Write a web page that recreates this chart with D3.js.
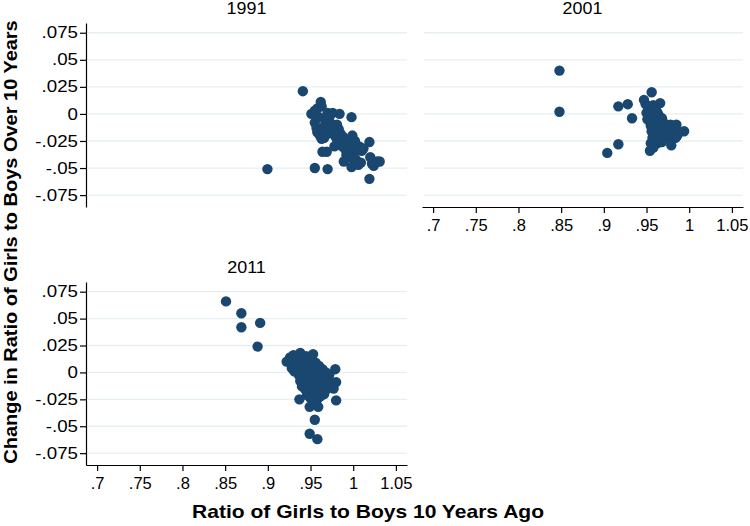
<!DOCTYPE html>
<html>
<head>
<meta charset="utf-8">
<script src="https://cdn.jsdelivr.net/npm/d3@7"></script>
<style>
  body { margin: 0; background: #fff; }
  text { font-family: "Liberation Sans", Arial, Helvetica, sans-serif; fill: #000; }
  .axis path, .axis line { stroke: #000; stroke-width: 1.2; }
  .grid line { stroke: #e6eff1; stroke-width: 1.3; }
</style>
</head>
<body>
<svg id="chart" width="750" height="526"></svg>
<script>
// ── Data: [ratio 10 years ago, change over 10 years] ──
const pts1991 = [
  [0.8995, -0.051], [0.941, 0.021], [0.951, 0.000], [0.955, 0.003], [0.958, 0.005],
  [0.962, 0.011], [0.963, 0.007], [0.955, -0.050], [0.970, -0.051], [0.964, -0.035],
  [0.969, -0.035], [0.955, -0.008], [0.957, -0.013], [0.958, -0.017], [0.961, -0.020],
  [0.963, -0.023], [0.966, -0.022], [0.967, -0.010], [0.968, -0.004], [0.970, 0.001],
  [0.972, -0.003], [0.973, -0.008], [0.975, -0.012], [0.976, 0.001], [0.977, -0.015],
  [0.978, -0.019], [0.980, -0.022], [0.981, -0.010], [0.983, -0.014], [0.984, 0.000],
  [0.985, -0.018], [0.986, -0.025], [0.987, -0.030], [0.988, -0.021], [0.989, -0.044],
  [0.990, -0.028], [0.991, -0.033], [0.992, -0.038], [0.993, -0.024], [0.994, -0.035],
  [0.995, -0.027], [0.996, -0.031], [0.997, -0.040], [0.998, -0.003], [0.998, -0.049],
  [0.999, -0.020], [1.000, -0.030], [1.001, -0.036], [1.002, -0.025], [1.003, -0.042],
  [1.004, -0.032], [1.006, -0.047], [1.007, -0.030], [1.009, -0.045], [1.010, -0.034],
  [1.012, -0.032], [1.019, -0.026], [1.020, -0.040], [1.022, -0.046], [1.024, -0.048],
  [1.028, -0.044], [1.031, -0.044], [1.019, -0.060], [0.978, -0.030], [0.982, -0.026],
  [0.960, -0.003], [0.965, -0.015], [0.972, -0.018]
];

const pts2001 = [
  [0.848, 0.040], [0.848, 0.002], [0.904, -0.036], [0.917, -0.028], [0.917, 0.007],
  [0.928, 0.009], [0.933, -0.004], [0.956, 0.020], [0.947, 0.013], [0.949, 0.009],
  [0.966, 0.010], [0.952, 0.006], [0.955, 0.003], [0.958, 0.008], [0.961, 0.004],
  [0.950, 0.001], [0.953, -0.002], [0.957, -0.001], [0.960, -0.003], [0.963, 0.001],
  [0.965, -0.002], [0.968, -0.004], [0.951, -0.005], [0.954, -0.007], [0.958, -0.008],
  [0.962, -0.006], [0.966, -0.009], [0.969, -0.007], [0.972, -0.010], [0.955, -0.011],
  [0.959, -0.013], [0.963, -0.012], [0.967, -0.014], [0.971, -0.013], [0.975, -0.012],
  [0.978, -0.010], [0.982, -0.011], [0.985, -0.010], [0.956, -0.016], [0.960, -0.018],
  [0.964, -0.017], [0.968, -0.019], [0.972, -0.017], [0.976, -0.016], [0.980, -0.018],
  [0.984, -0.015], [0.988, -0.017], [0.994, -0.016], [0.957, -0.022], [0.961, -0.024],
  [0.965, -0.021], [0.970, -0.023], [0.975, -0.021], [0.979, -0.024], [0.984, -0.022],
  [0.986, -0.020], [0.955, -0.027], [0.959, -0.029], [0.963, -0.027], [0.979, -0.029],
  [0.954, -0.034], [0.958, -0.031], [0.968, -0.026]
];

const pts2011 = [
  [0.851, 0.066], [0.869, 0.055], [0.869, 0.042], [0.891, 0.046], [0.888, 0.024],
  [0.922, 0.010], [0.926, 0.014], [0.930, 0.016], [0.935, 0.013], [0.938, 0.018],
  [0.945, 0.015], [0.953, 0.017], [0.928, 0.004], [0.932, 0.008], [0.936, 0.006],
  [0.940, 0.010], [0.944, 0.007], [0.948, 0.011], [0.952, 0.005], [0.956, 0.009],
  [0.960, 0.006], [0.931, 0.001], [0.936, -0.002], [0.940, 0.000], [0.944, -0.003],
  [0.948, 0.002], [0.952, -0.001], [0.956, 0.001], [0.960, -0.002], [0.964, 0.003],
  [0.968, 0.000], [0.972, -0.002], [0.979, 0.003], [0.938, -0.008], [0.942, -0.006],
  [0.946, -0.010], [0.950, -0.007], [0.954, -0.009], [0.958, -0.006], [0.962, -0.010],
  [0.966, -0.007], [0.970, -0.011], [0.975, -0.009], [0.980, -0.009], [0.940, -0.013],
  [0.944, -0.016], [0.948, -0.014], [0.952, -0.017], [0.956, -0.015], [0.960, -0.018],
  [0.964, -0.014], [0.968, -0.016], [0.977, -0.015], [0.937, -0.025], [0.946, -0.021],
  [0.950, -0.024], [0.954, -0.022], [0.958, -0.025], [0.962, -0.022], [0.966, -0.020],
  [0.980, -0.026], [0.949, -0.032], [0.953, -0.029], [0.959, -0.032], [0.955, -0.044],
  [0.949, -0.057], [0.958, -0.062]
];

const xTicks = [0.7, 0.75, 0.8, 0.85, 0.9, 0.95, 1, 1.05];
const yTicks = [-0.075, -0.05, -0.025, 0, 0.025, 0.05, 0.075];
const xDomain = [0.687, 1.063];
const yDomain = [-0.086, 0.084];

const xTitle = 'Ratio of Girls to Boys 10 Years Ago';
const yTitle = 'Change in Ratio of Girls to Boys Over 10 Years';

// ── Layout ──
const panels = [
  { title: '1991', data: pts1991, x0: 86,  x1: 407, y0: 23,  y1: 207, yAxis: true,  xAxis: false },
  { title: '2001', data: pts2001, x0: 422, x1: 743, y0: 23,  y1: 207, yAxis: false, xAxis: true },
  { title: '2011', data: pts2011, x0: 86,  x1: 407, y0: 282, y1: 465, yAxis: true,  xAxis: true }
];

const dotColor = '#1a476f';
const yLabStretch = 1.17;   // the reference's y labels are drawn wide

// Stata-style labels: ".075", "-.025", "1.05"
const fmt = v => String(+v.toFixed(3)).replace(/^(-?)0\./, '$1.');

const svg = d3.select('#chart');

panels.forEach(p => {
  const x = d3.scaleLinear().domain(xDomain).range([p.x0, p.x1]);
  const y = d3.scaleLinear().domain(yDomain).range([p.y1, p.y0]);

  // gridlines
  svg.append('g').attr('class', 'grid')
    .selectAll('line')
    .data(yTicks)
    .join('line')
    .attr('x1', p.x0 + 2).attr('x2', p.x1)
    .attr('y1', d => y(d)).attr('y2', d => y(d));

  // panel title
  svg.append('text')
    .attr('transform', `translate(${(p.x0 + p.x1) / 2},${p.y0 - 9}) scale(1.12,1)`)
    .attr('text-anchor', 'middle')
    .attr('font-size', '16px')
    .text(p.title);

  if (p.yAxis) {
    const g = svg.append('g').attr('class', 'axis')
      .attr('transform', `translate(${p.x0},0)`)
      .call(d3.axisLeft(y).tickValues(yTicks).tickSize(6).tickSizeOuter(0)
        .tickPadding(2).tickFormat(fmt));
    g.selectAll('text')
      .attr('font-size', '16px')
      .attr('x', -8 / yLabStretch)
      .attr('transform', `scale(${yLabStretch},1)`);
  }

  if (p.xAxis) {
    const g = svg.append('g').attr('class', 'axis')
      .attr('transform', `translate(0,${p.y1})`)
      .call(d3.axisBottom(x).tickValues(xTicks).tickSize(6).tickSizeOuter(0)
        .tickPadding(6).tickFormat(fmt));
    g.selectAll('text').attr('font-size', '16.5px');
  }

  // points
  svg.append('g')
    .selectAll('circle')
    .data(p.data)
    .join('circle')
    .attr('cx', d => x(d[0]))
    .attr('cy', d => y(d[1]))
    .attr('r', 5.2)
    .attr('fill', dotColor);
});

// axis titles
svg.append('text')
  .attr('transform', 'translate(368,518) scale(1.17,1)')
  .attr('text-anchor', 'middle')
  .attr('font-size', '18px').attr('font-weight', 'bold')
  .text(xTitle);

svg.append('text')
  .attr('transform', 'translate(17,242) rotate(-90) scale(1.11,1)')
  .attr('text-anchor', 'middle')
  .attr('font-size', '18px').attr('font-weight', 'bold')
  .text(yTitle);
</script>
</body>
</html>
